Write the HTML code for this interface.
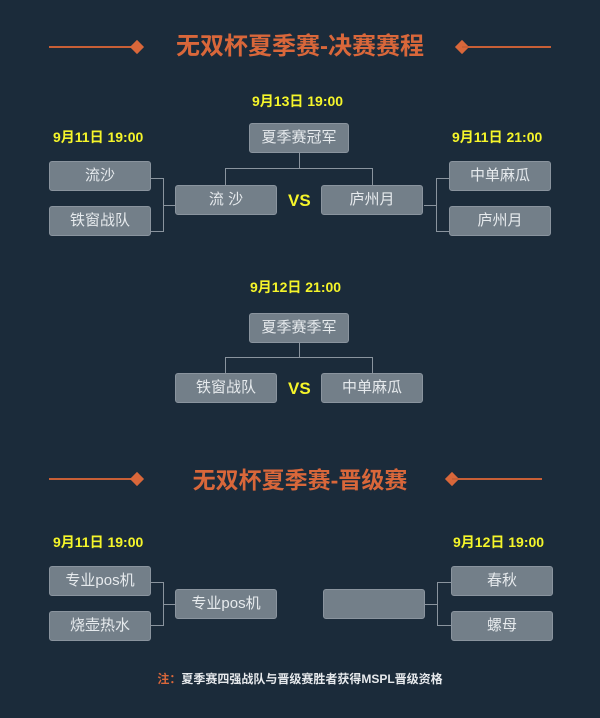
<!DOCTYPE html>
<html><head><meta charset="utf-8"><style>
*{margin:0;padding:0;box-sizing:border-box}
body{width:600px;height:718px;background:#1b2b3a;position:relative;overflow:hidden;font-family:"Liberation Sans","Noto Sans CJK SC",sans-serif}
.t{position:absolute;left:0;width:600px;text-align:center;color:#d9673a;font-weight:bold;font-size:22px;line-height:30px}
.ln{position:absolute;height:2px;background:#c85f36}
.dm{position:absolute;width:10px;height:10px;background:#d9673a;transform:rotate(45deg)}
.d{position:absolute;color:#f5f52a;font-weight:bold;font-size:14px;line-height:18px;white-space:nowrap}
.b{position:absolute;width:102px;height:30px;background:#737f89;border:1px solid #8a949e;border-radius:3px;color:#e6eaed;font-size:15px;line-height:28px;text-align:center}
.h{position:absolute;height:1px;background:#8a949e}
.v{position:absolute;width:1px;background:#8a949e}
.vs{position:absolute;color:#f5f52a;font-weight:bold;font-size:17px;line-height:20px}
.n{position:absolute;left:0;width:600px;text-align:center;font-size:12px;font-weight:bold;color:#e6e9ec}
</style></head><body>
<div class="ln" style="left:49px;top:46px;width:86px"></div><div class="dm" style="left:132px;top:42px"></div>
<div class="dm" style="left:457px;top:42px"></div><div class="ln" style="left:462px;top:46px;width:89px"></div>
<div class="t" style="top:32px;font-size:24px">无双杯夏季赛-决赛赛程</div>

<div class="d" style="left:252px;top:92px">9月13日 19:00</div>
<div class="d" style="left:53px;top:128px">9月11日 19:00</div>
<div class="d" style="left:452px;top:128px">9月11日 21:00</div>
<div class="b" style="left:249px;top:123px;width:100px">夏季赛冠军</div>
<div class="v" style="left:299px;top:153px;height:16px"></div>
<div class="h" style="left:225px;top:168px;width:148px"></div>
<div class="v" style="left:225px;top:168px;height:17px"></div>
<div class="v" style="left:372px;top:168px;height:17px"></div>
<div class="b" style="left:49px;top:161px">流沙</div>
<div class="b" style="left:49px;top:206px">铁窗战队</div>
<div class="h" style="left:151px;top:178px;width:12px"></div>
<div class="h" style="left:151px;top:231px;width:12px"></div>
<div class="v" style="left:163px;top:178px;height:54px"></div>
<div class="h" style="left:163px;top:205px;width:12px"></div>
<div class="b" style="left:175px;top:185px">流 沙</div>
<div class="vs" style="left:288px;top:191px">VS</div>
<div class="b" style="left:321px;top:185px">庐州月</div>
<div class="h" style="left:424px;top:205px;width:12px"></div>
<div class="v" style="left:436px;top:178px;height:54px"></div>
<div class="h" style="left:436px;top:178px;width:13px"></div>
<div class="h" style="left:436px;top:231px;width:13px"></div>
<div class="b" style="left:449px;top:161px">中单麻瓜</div>
<div class="b" style="left:449px;top:206px">庐州月</div>

<div class="d" style="left:250px;top:278px">9月12日 21:00</div>
<div class="b" style="left:249px;top:313px;width:100px">夏季赛季军</div>
<div class="v" style="left:299px;top:343px;height:14px"></div>
<div class="h" style="left:225px;top:357px;width:148px"></div>
<div class="v" style="left:225px;top:357px;height:16px"></div>
<div class="v" style="left:372px;top:357px;height:16px"></div>
<div class="b" style="left:175px;top:373px">铁窗战队</div>
<div class="vs" style="left:288px;top:379px">VS</div>
<div class="b" style="left:321px;top:373px">中单麻瓜</div>

<div class="ln" style="left:49px;top:478px;width:86px"></div><div class="dm" style="left:132px;top:474px"></div>
<div class="dm" style="left:447px;top:474px"></div><div class="ln" style="left:452px;top:478px;width:90px"></div>
<div class="t" style="top:465px;font-size:23px">无双杯夏季赛-晋级赛</div>

<div class="d" style="left:53px;top:533px">9月11日 19:00</div>
<div class="d" style="left:453px;top:533px">9月12日 19:00</div>
<div class="b" style="left:49px;top:566px">专业pos机</div>
<div class="b" style="left:49px;top:611px">烧壶热水</div>
<div class="h" style="left:151px;top:582px;width:12px"></div>
<div class="h" style="left:151px;top:625px;width:12px"></div>
<div class="v" style="left:163px;top:582px;height:44px"></div>
<div class="h" style="left:163px;top:604px;width:12px"></div>
<div class="b" style="left:175px;top:589px">专业pos机</div>
<div class="b" style="left:323px;top:589px"></div>
<div class="h" style="left:425px;top:604px;width:12px"></div>
<div class="v" style="left:437px;top:582px;height:44px"></div>
<div class="h" style="left:437px;top:582px;width:14px"></div>
<div class="h" style="left:437px;top:625px;width:14px"></div>
<div class="b" style="left:451px;top:566px">春秋</div>
<div class="b" style="left:451px;top:611px">螺母</div>

<div class="n" style="top:670px"><span style="color:#d9673a">注：</span>夏季赛四强战队与晋级赛胜者获得MSPL晋级资格</div>
</body></html>
